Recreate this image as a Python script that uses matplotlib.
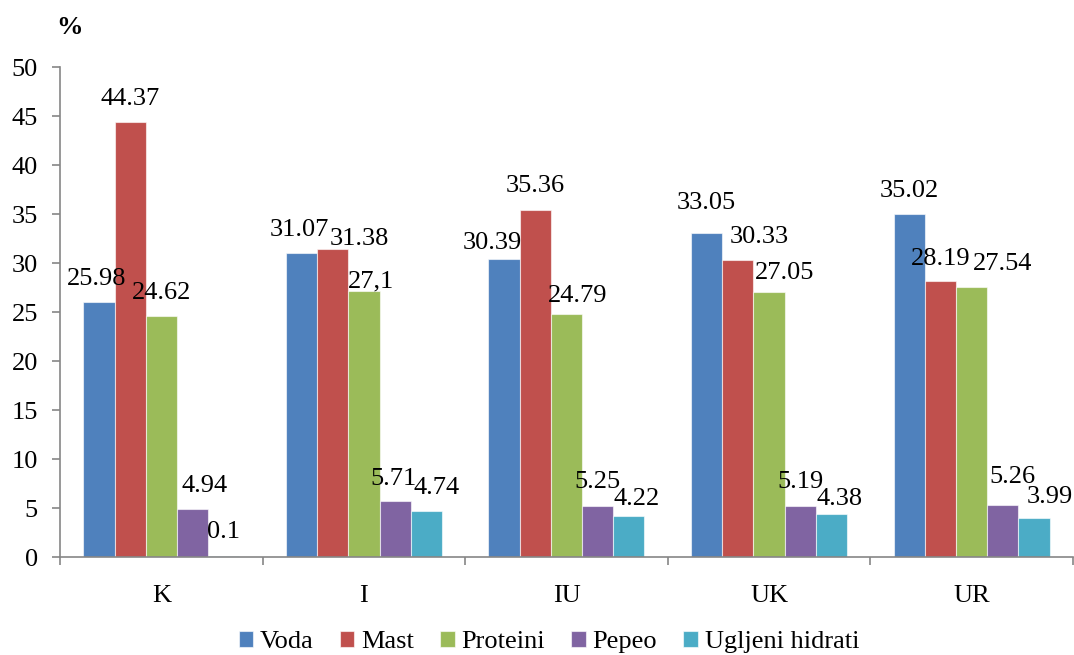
import matplotlib
matplotlib.use("Agg")
import matplotlib.pyplot as plt
from matplotlib.ticker import FixedLocator, MultipleLocator
import numpy as np

# Composition of samples (%)
categories = ["K", "I", "IU", "UK", "UR"]
series_names = ["Voda", "Mast", "Proteini", "Pepeo", "Ugljeni hidrati"]
voda = [25.98, 31.07, 30.39, 33.05, 35.02]
mast = [44.37, 31.38, 35.36, 30.33, 28.19]
proteini = [24.62, 27.1, 24.79, 27.05, 27.54]
pepeo = [4.94, 5.71, 5.25, 5.19, 5.26]
ugljeni_hidrati = [0.1, 4.74, 4.22, 4.38, 3.99]
y_ticks = [0, 5, 10, 15, 20, 25, 30, 35, 40, 45, 50]

series = [voda, mast, proteini, pepeo, ugljeni_hidrati]
colors = ["#4F81BD", "#C0504D", "#9BBB59", "#8064A2", "#4BACC6"]

# labels written with a decimal comma in the source table
comma_labels = {(2, 1)}

# hand-placed label positions: (series, category) -> (dx, gap above bar) in px
DEFAULT_NUDGE = (0, 17)
label_nudges = {
    (0, 0): (-2, 17), (3, 0): (12, 17), (4, 0): (0, 18),
    (0, 1): (-2, 17), (1, 1): (27, 4.5), (2, 1): (7, 3.5),
    (3, 1): (-2, 16), (4, 1): (10, 16.5),
    (0, 2): (-12, 10), (1, 2): (0, 18), (2, 2): (11, 12),
    (3, 2): (0, 17.5), (4, 2): (8, 10.6),
    (0, 3): (0, 24), (1, 3): (21, 17), (2, 3): (16, 13),
    (3, 3): (0, 18), (4, 3): (8, 9),
    (0, 4): (0, 17), (1, 4): (0, 16), (2, 4): (31, 17),
    (3, 4): (10, 22.5), (4, 4): (16, 15),
}

plt.rcParams["font.family"] = ["Liberation Serif", "DejaVu Serif"]
FS = 19
DPI = 100
PX = 72.0 / DPI  # points per pixel

fig = plt.figure(figsize=(10.74, 6.55), dpi=DPI)
ax = fig.add_axes([0.0559, 0.1496, 0.9431, 0.7481])

n = len(categories)
x = np.arange(n) + 0.5
bw = 0.154
offsets = (np.arange(len(series)) - 2) * bw

for s, (vals, name, col) in enumerate(zip(series, series_names, colors)):
    bars = ax.bar(x + offsets[s], vals, width=bw, color=col, label=name,
                  edgecolor=(1, 1, 1, 0.6), linewidth=0.8, zorder=2)
    for c, (b, v) in enumerate(zip(bars, vals)):
        txt = f"{v:g}"
        if (s, c) in comma_labels:
            txt = txt.replace(".", ",")
        dx, gap = label_nudges.get((s, c), DEFAULT_NUDGE)
        ax.annotate(txt, (b.get_x() + b.get_width() / 2, v),
                    xytext=(dx * PX, gap * PX), textcoords="offset points",
                    ha="center", va="baseline", fontsize=FS, color="black",
                    zorder=3)

ax.set_xlim(0, n)
ax.set_ylim(0, 50)
ax.yaxis.set_major_locator(FixedLocator(y_ticks))
ax.set_yticklabels([str(t) for t in y_ticks])

ax.set_xticks(x)
ax.set_xticklabels(categories)
ax.xaxis.set_minor_locator(MultipleLocator(1))
ax.tick_params(axis="x", which="major", length=0, pad=20, labelsize=FS)
ax.tick_params(axis="x", which="minor", length=6, width=1.2, color="#868686",
               direction="out")
ax.tick_params(axis="y", length=6, width=1.2, color="#868686", pad=10,
               labelsize=FS, direction="out")

for side in ["top", "right"]:
    ax.spines[side].set_visible(False)
for side in ["left", "bottom"]:
    ax.spines[side].set_color("#868686")
    ax.spines[side].set_linewidth(1.2)

fig.text(0.052, 0.958, "%", fontsize=FS, fontweight="bold", ha="left",
         va="center")

fig.legend(loc="center", bbox_to_anchor=(0.511, 0.02), ncol=5,
           frameon=False, fontsize=FS, handlelength=0.55, handleheight=0.55,
           handletextpad=0.25, columnspacing=1.0, borderaxespad=0)

fig.savefig("out.png", dpi=DPI)
